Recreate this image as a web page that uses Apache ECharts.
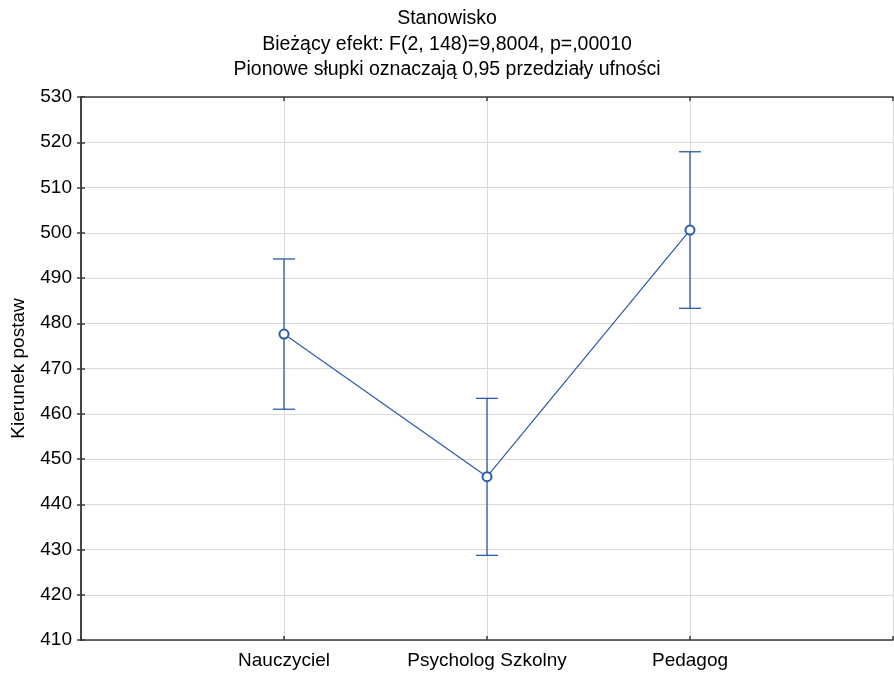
<!DOCTYPE html>
<html>
<head>
<meta charset="utf-8">
<script src="https://cdn.jsdelivr.net/npm/echarts@6/dist/echarts.min.js"></script>
<style>html,body{margin:0;padding:0;background:#fff}#chart{width:894px;height:673px}</style>
</head>
<body>
<div id="chart"></div>
<script>
const categories = ['Nauczyciel', 'Psycholog Szkolny', 'Pedagog'];
const means = [477.6, 446.1, 500.6];
const lower = [461.0, 428.7, 483.3];
const upper = [494.2, 463.4, 517.9];
const yTicks = [410, 420, 430, 440, 450, 460, 470, 480, 490, 500, 510, 520, 530];
const titleLines = ['Stanowisko', 'Bieżący efekt: F(2, 148)=9,8004, p=,00010', 'Pionowe słupki oznaczają 0,95 przedziały ufności'];
const yName = 'Kierunek postaw';

const blue = '#2b5ba8';
const axisColor = '#3a3a3a';
const gridColor = '#d9d9d9';
const font = 'Liberation Sans, Arial, sans-serif';

const chart = echarts.init(document.getElementById('chart'));
const xCommon = {
  type: 'value', min: 0, max: categories.length + 1, interval: 1,
  axisLine: { show: true, lineStyle: { color: axisColor, width: 1.5 } },
  axisTick: { show: true, inside: true, length: 4, lineStyle: { color: axisColor, width: 1.5 } },
  splitLine: { show: false }
};
const yCommon = {
  type: 'value', min: yTicks[0], max: yTicks[yTicks.length - 1], interval: 10,
  axisLine: { show: true, lineStyle: { color: axisColor, width: 1.5 } },
  axisTick: { show: true, inside: true, length: 4, lineStyle: { color: axisColor, width: 1.5 } },
  splitLine: { show: false }
};
chart.setOption({
  animation: false,
  title: {
    text: titleLines.join('\n'), left: 'center', top: 6, padding: 0,
    textStyle: { fontFamily: font, fontSize: 19.5, fontWeight: 'normal', color: '#000', lineHeight: 25.5 }
  },
  grid: { left: 81, right: 1, top: 97, bottom: 33, outerBoundsMode: 'none', containLabel: false },
  xAxis: [
    Object.assign({}, xCommon, {
      position: 'bottom',
      splitLine: { show: true, lineStyle: { color: gridColor, width: 1 } },
      axisLabel: { show: true, margin: 11, fontFamily: font, fontSize: 19, color: '#000',
        formatter: v => categories[v - 1] || '' }
    }),
    Object.assign({}, xCommon, { position: 'top', axisLabel: { show: false } })
  ],
  yAxis: [
    Object.assign({}, yCommon, {
      position: 'left',
      splitLine: { show: true, lineStyle: { color: gridColor, width: 1 } },
      axisLabel: { show: true, margin: 9, fontFamily: font, fontSize: 19, color: '#000' },
      name: yName, nameLocation: 'middle', nameGap: 53, nameRotate: 90,
      nameTextStyle: { fontFamily: font, fontSize: 19, color: '#000' }
    }),
    Object.assign({}, yCommon, { position: 'right', axisLabel: { show: false } })
  ],
  series: [
    {
      type: 'custom',
      xAxisIndex: 0, yAxisIndex: 0,
      data: categories.map((c, i) => [i + 1, lower[i], upper[i]]),
      renderItem: function (params, api) {
        const x = api.value(0);
        const lo = api.coord([x, api.value(1)]);
        const hi = api.coord([x, api.value(2)]);
        const hw = 11;
        const style = { stroke: blue, lineWidth: 1.3 };
        return {
          type: 'group',
          children: [
            { type: 'line', shape: { x1: lo[0], y1: lo[1], x2: hi[0], y2: hi[1] }, style: style },
            { type: 'line', shape: { x1: lo[0] - hw, y1: lo[1], x2: lo[0] + hw, y2: lo[1] }, style: style },
            { type: 'line', shape: { x1: hi[0] - hw, y1: hi[1], x2: hi[0] + hw, y2: hi[1] }, style: style }
          ]
        };
      },
      z: 3
    },
    {
      type: 'line',
      data: means.map((m, i) => [i + 1, m]),
      symbol: 'emptyCircle', symbolSize: 9,
      lineStyle: { color: blue, width: 1.2 },
      itemStyle: { color: blue, borderColor: blue, borderWidth: 1.3 },
      z: 4
    }
  ]
});
</script>
</body>
</html>
